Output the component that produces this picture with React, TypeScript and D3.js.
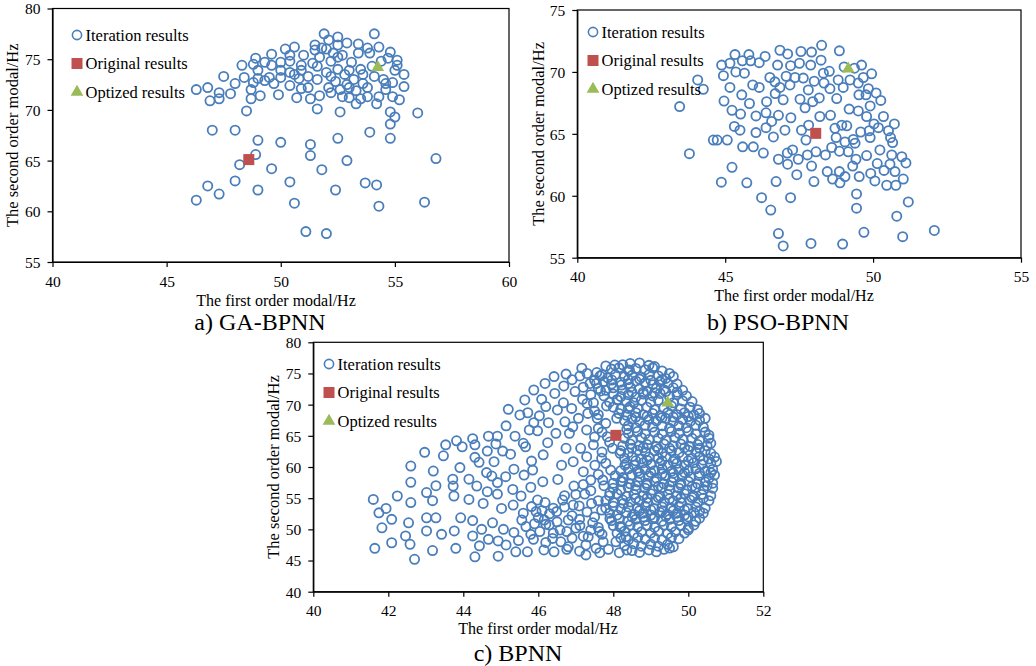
import React, { useRef, useEffect } from "react";
import * as d3 from "d3";

type Pt = [number, number];

// ---- a) GA-BPNN ----
const gaIteration: Pt[] = [
  [46.3, 72.0], [46.8, 72.2], [46.9, 70.9], [47.3, 71.7], [47.3, 71.1], [47.5, 73.3], [47.8, 71.6], [48.0, 72.6],
  [48.3, 74.4], [48.4, 73.2], [48.5, 69.9], [48.7, 72.0], [48.7, 71.1], [48.8, 72.7], [48.8, 74.5], [48.9, 75.1],
  [49.1, 71.4], [49.0, 73.9], [49.0, 73.1], [49.3, 74.7], [49.5, 73.2], [49.6, 75.5], [49.6, 74.4], [49.7, 72.6],
  [49.9, 71.5], [50.0, 74.7], [50.0, 73.9], [50.0, 73.2], [50.2, 76.0], [50.4, 75.4], [50.4, 74.8], [50.4, 73.7],
  [50.4, 72.4], [50.6, 76.2], [50.7, 71.2], [50.8, 73.1], [50.9, 72.1], [50.9, 74.4], [50.9, 73.9], [51.0, 75.4],
  [51.2, 73.3], [51.2, 72.2], [51.3, 71.1], [51.5, 76.4], [51.5, 75.9], [51.6, 74.3], [51.6, 73.0], [51.6, 70.1],
  [51.7, 71.4], [51.7, 75.2], [51.8, 76.1], [51.9, 77.5], [52.1, 76.9], [52.0, 76.0], [52.0, 73.7], [52.1, 72.2],
  [52.2, 74.8], [52.2, 73.3], [52.4, 72.8], [52.5, 77.2], [52.5, 76.4], [52.5, 75.2], [52.5, 74.0], [52.6, 69.8],
  [52.6, 72.0], [52.7, 71.3], [52.7, 75.4], [52.9, 72.5], [52.9, 76.6], [53.0, 73.9], [53.0, 71.2], [53.0, 72.2],
  [53.2, 73.0], [53.3, 70.6], [53.3, 71.9], [53.4, 75.6], [53.4, 76.5], [53.5, 74.0], [53.5, 71.1], [53.6, 73.5],
  [53.8, 72.2], [53.8, 76.1], [53.8, 71.3], [53.9, 75.6], [53.9, 67.8], [54.1, 73.3], [54.1, 77.5], [54.2, 70.6],
  [54.3, 71.3], [54.3, 76.2], [54.4, 74.8], [54.5, 73.0], [54.6, 72.6], [54.6, 72.0], [54.7, 75.1], [54.8, 69.8],
  [54.8, 68.6], [54.8, 67.2], [54.8, 75.7], [54.9, 72.7], [54.9, 71.3], [55.0, 73.9], [55.0, 69.3], [55.1, 74.9],
  [55.1, 74.4], [55.2, 71.0], [55.4, 73.5], [55.4, 72.3], [56.0, 69.7], [52.3, 75.6], [51.4, 74.6], [53.1, 74.7],
  [52.8, 73.5], [50.6, 73.5], [49.3, 72.9], [52.2, 71.7], [53.6, 72.6], [54.0, 74.3],
  [47.0, 68.0], [48.0, 68.0], [49.0, 67.0], [50.0, 66.8], [51.3, 66.6], [48.9, 65.6], [51.3, 65.5], [52.5, 67.2],
  [48.2, 64.6], [49.6, 64.2], [52.9, 65.0], [51.8, 64.1], [46.8, 62.5], [48.0, 63.0], [50.4, 62.9], [53.7, 62.8],
  [54.2, 62.6], [46.3, 61.1], [47.3, 61.7], [49.0, 62.1], [52.4, 62.1], [50.6, 60.8], [54.3, 60.5], [56.3, 60.9],
  [56.8, 65.2], [51.1, 58.0], [52.0, 57.8],
];
const gaOriginal: Pt = [48.6, 65.1];
const gaOptimized: Pt = [54.25, 74.2];
const gaXTicks = [40, 45, 50, 55, 60];
const gaYTicks = [55, 60, 65, 70, 75, 80];

// ---- b) PSO-BPNN ----
const psoIteration: Pt[] = [
  [43.46, 67.2], [43.79, 63.4], [44.07, 69.35], [44.26, 68.6], [44.6, 64.5], [44.73, 64.5], [44.87, 61.1], [44.88, 70.55],
  [44.94, 69.7], [44.96, 67.65], [45.07, 64.5], [45.16, 68.75], [45.16, 70.7], [45.23, 66.9], [45.23, 62.3], [45.31, 65.6],
  [45.33, 71.4], [45.36, 70.0], [45.5, 65.3], [45.52, 66.6], [45.58, 70.9], [45.59, 63.95], [45.65, 69.9], [45.56, 68.15],
  [45.8, 71.4], [45.82, 67.45], [45.73, 61.05], [45.86, 70.9], [45.93, 68.95], [45.95, 63.95], [46.04, 65.1], [46.04, 66.45],
  [46.15, 70.75], [46.15, 68.75], [46.23, 59.85], [46.29, 63.45], [46.35, 71.25], [46.4, 67.6], [46.38, 66.7], [46.38, 65.5],
  [46.51, 69.55], [46.54, 58.85], [46.63, 64.75], [46.57, 66.0], [46.68, 69.2], [46.69, 68.25], [46.72, 61.15], [46.77, 70.55],
  [46.8, 62.95], [46.8, 66.5], [46.8, 56.95], [46.85, 68.75], [46.85, 71.75], [46.96, 55.95], [46.96, 67.75], [47.02, 65.3],
  [47.06, 69.65], [47.1, 63.45], [47.11, 71.45], [47.11, 62.55], [47.19, 68.95], [47.21, 70.5], [47.21, 59.85], [47.22, 66.3],
  [47.28, 63.7], [47.36, 69.55], [47.42, 61.7], [47.47, 62.95], [47.51, 70.7], [47.53, 67.8], [47.56, 71.65], [47.58, 65.3],
  [47.64, 69.5], [47.7, 67.1], [47.73, 64.5], [47.78, 63.3], [47.81, 68.55], [47.82, 65.7], [47.89, 70.55], [47.9, 56.15],
  [47.92, 62.4], [47.92, 71.6], [47.96, 67.6], [48.0, 61.15], [48.01, 69.25], [48.07, 63.55], [48.18, 67.9], [48.2, 66.4],
  [48.26, 72.15], [48.24, 70.95], [48.32, 69.9], [48.34, 69.1], [48.39, 63.3], [48.45, 61.95], [48.52, 70.05], [48.54, 68.65],
  [48.56, 66.5], [48.6, 63.9], [48.63, 61.35], [48.71, 65.45], [48.75, 64.7], [48.77, 67.85], [48.82, 69.35], [48.86, 61.95],
  [48.86, 63.6], [48.86, 71.7], [48.88, 61.05], [48.94, 65.7], [48.97, 56.1], [48.99, 68.75], [49.02, 70.4], [49.05, 61.55],
  [49.05, 64.35], [49.11, 65.65], [49.16, 63.55], [49.19, 67.0], [49.22, 69.35], [49.31, 62.4], [49.33, 64.55], [49.37, 70.3],
  [49.39, 64.25], [49.42, 62.95], [49.44, 60.15], [49.44, 59.0], [49.5, 66.85], [49.5, 69.1], [49.52, 68.15], [49.53, 61.55],
  [49.58, 65.15], [49.61, 70.55], [49.67, 69.55], [49.69, 57.05], [49.76, 68.15], [49.78, 63.25], [49.78, 66.4], [49.84, 68.65],
  [49.87, 65.25], [49.9, 64.7], [49.9, 67.25], [49.92, 61.8], [49.95, 69.85], [50.03, 65.8], [50.06, 61.2], [50.1, 68.3],
  [50.14, 62.6], [50.18, 65.5], [50.23, 63.7], [50.26, 67.7], [50.35, 66.4], [50.37, 62.05], [50.46, 60.85], [50.52, 65.25],
  [50.57, 62.55], [50.59, 64.7], [50.63, 63.3], [50.66, 64.3], [50.72, 65.8], [50.74, 61.95], [50.77, 60.85], [50.8, 58.35],
  [50.97, 63.15], [51.0, 56.7], [51.02, 61.35], [51.11, 62.65], [51.19, 59.5], [52.07, 57.2],
];
const psoOriginal: Pt = [48.06, 65.04];
const psoOptimized: Pt = [49.16, 70.25];
const psoXTicks = [40, 45, 50, 55];
const psoYTicks = [55, 60, 65, 70, 75];

// ---- c) BPNN ----
const bpIteration: Pt[] = [
  // sparse left part
  [41.6, 54.8], [41.64, 46.95], [41.75, 52.65], [41.83, 50.25], [41.94, 53.35], [42.09, 47.85], [42.09, 51.6], [42.24, 55.35],
  [42.46, 48.95], [42.54, 51.05], [42.58, 47.6], [42.6, 57.55], [42.6, 54.3], [42.6, 60.15], [42.7, 45.2], [42.97, 62.35],
  [43.02, 55.9], [43.02, 51.85], [43.02, 49.75], [43.18, 54.6], [43.18, 46.6], [43.2, 59.35], [43.27, 51.85], [43.27, 57.0],
  [43.42, 49.2], [43.47, 61.8], [43.53, 63.55], [43.72, 58.05], [43.73, 56.95], [43.75, 55.35], [43.76, 49.75], [43.8, 46.95],
  [43.82, 64.2], [43.91, 59.9], [43.93, 51.85], [43.97, 63.25], [44.15, 58.05], [44.15, 54.8], [44.25, 64.55], [44.25, 51.4],
  [44.25, 48.95], [44.31, 45.6], [44.31, 61.55], [44.31, 63.55], [44.36, 56.95], [44.42, 60.75], [44.43, 47.35], [44.49, 50.0],
  [44.53, 54.15], [44.62, 59.1], [44.64, 56.05], [44.67, 64.95], [44.64, 62.55], [44.67, 48.4], [44.76, 58.55], [44.78, 51.05],
  [44.82, 60.85], [44.87, 63.7], [44.91, 64.95], [44.91, 57.5], [44.91, 55.65], [44.93, 48.15], [44.93, 45.7], [45.02, 53.35],
  [45.05, 62.55], [45.07, 50.0], [45.13, 58.45], [45.14, 47.5], [45.14, 66.6], [45.2, 69.25], [45.26, 62.05], [45.32, 56.4],
  [45.33, 53.9], [45.35, 59.65], [45.35, 49.5], [45.38, 64.95], [45.4, 46.4], [45.47, 48.2], [45.51, 68.35], [45.54, 55.35],
  [45.56, 51.5], [45.6, 63.8], [45.62, 58.7], [45.64, 70.75], [45.66, 63.25], [45.67, 50.45], [45.71, 46.4], [45.72, 68.7],
  [45.76, 65.95], [45.8, 56.75], [45.82, 60.95], [45.82, 53.65], [45.85, 59.5], [45.87, 48.4], [45.88, 72.35], [45.88, 67.1],
  [45.94, 52.85], [45.98, 65.8], [45.98, 54.7], [46.03, 68.2], [46.04, 49.65], [46.09, 70.85], [46.12, 57.65], [46.13, 61.95],
  [46.15, 46.7], [46.16, 51.5], [46.18, 54.3], [46.18, 73.4], [46.2, 69.7], [46.25, 63.9], [46.27, 67.1], [46.29, 50.7],
  [46.38, 48.55], [46.42, 46.4], [46.42, 74.5], [46.44, 71.8], [46.47, 65.4], [46.49, 52.85], [46.51, 69.15], [46.52, 58.0],
  [46.58, 49.9], [46.62, 60.3], [46.65, 54.7], [46.67, 70.3], [46.68, 73.0], [46.71, 67.25], [46.74, 74.9], [46.74, 63.0],
  [46.76, 46.8], [46.76, 49.65], [46.8, 51.5], [46.83, 65.4], [46.89, 69.4], [46.92, 66.45], [46.93, 60.85], [46.93, 53.9],
  [46.95, 56.95], [46.98, 72.1], [47.07, 67.8], [47.09, 53.75], [47.11, 74.6], [47.11, 50.6], [47.13, 63.0], [47.16, 75.85],
  [47.18, 70.85], [47.2, 59.25], [47.24, 55.65], [47.27, 47.5], [47.27, 45.9], [47.29, 65.95], [47.29, 61.65], [47.32, 68.6],
  [47.33, 48.8], [47.38, 73.4], [47.4, 57.9], [47.42, 54.15], [47.45, 51.05], [47.47, 70.3], [47.47, 63.55], [47.51, 60.3],
  [47.54, 46.95], [47.56, 75.15], [47.57, 67.8], [47.6, 66.2], [47.63, 49.65], [47.64, 46.25], [47.66, 72.2], [47.69, 61.4],
  [47.69, 53.1], [47.72, 57.9], [47.73, 48.0], [47.8, 76.2], [47.82, 69.8], [47.84, 64.85], [47.87, 46.8], [47.91, 55.9],
  [47.91, 51.75], [47.93, 59.5], [47.96, 73.95], [47.98, 63.0], [48.04, 76.35], [48.07, 48.0], [48.09, 67.8], [48.11, 70.75],
  [48.16, 46.25], [48.18, 62.2], [48.18, 50.45], [48.22, 73.15], [48.25, 57.65], [48.27, 54.15], [48.31, 60.3], [48.34, 48.8],
  [48.36, 66.05], [48.36, 46.7], [48.4, 69.4], [48.43, 75.55],
  [46.3, 52.5], [46.5, 51.2], [46.7, 53.6], [46.9, 52.2], [47.1, 51.6], [47.3, 52.8], [47.5, 52.0], [47.6, 50.3],
  [47.7, 49.2], [47.4, 49.9], [47.2, 48.9], [46.9, 48.6], [46.6, 48.0], [46.4, 49.4], [46.2, 50.8], [46.0, 51.9],
  [45.9, 50.9], [47.0, 50.2], [47.6, 54.6], [47.4, 56.2], [47.75, 57.0], [47.6, 58.8], [47.8, 60.6], [47.7, 62.4],
  [47.9, 64.0], [47.5, 64.8], [47.4, 71.6], [47.2, 72.8], [46.9, 74.0], [47.7, 74.8], [47.5, 69.0], [47.8, 67.0],
  [47.3, 75.0], [47.5, 73.9], [47.3, 70.2], [47.6, 68.4], [47.7, 65.6], [47.2, 57.2], [47.0, 55.6], [46.7, 55.4],
  [46.4, 53.4], [46.1, 53.0], [46.2, 47.9], [46.8, 47.2], [47.1, 46.5], [45.8, 49.2], [45.6, 52.6],
  // dense right part
  [48.25, 76.4], [48.45, 76.6], [48.7, 76.7], [48.95, 76.3], [49.1, 76.1],
  [47.95, 75.7], [48.15, 75.9], [48.4, 75.5], [48.6, 75.8], [48.85, 75.6], [49.05, 75.9], [49.3, 75.4], [49.5, 75.0],
  [47.65, 74.6], [47.85, 74.3], [48.05, 74.8], [48.3, 74.5], [48.5, 74.7], [48.75, 74.4], [48.95, 74.8], [49.2, 74.6], [49.4, 74.2], [49.6, 74.5],
  [47.55, 73.4], [47.75, 73.7], [47.95, 73.3], [48.2, 73.6], [48.4, 73.4], [48.6, 73.8], [48.85, 73.5], [49.05, 73.2], [49.25, 73.7], [49.45, 73.4], [49.7, 73.3],
  [47.6, 72.6], [47.8, 72.3], [48.0, 72.7], [48.25, 72.4], [48.45, 72.8], [48.7, 72.5], [48.9, 72.2], [49.15, 72.6], [49.35, 72.4], [49.6, 72.7], [49.85, 72.3],
  [47.75, 71.4], [48.0, 71.7], [48.2, 71.3], [48.4, 71.6], [48.6, 71.2], [48.8, 71.7], [49.05, 71.4], [49.25, 71.8], [49.5, 71.3], [49.7, 71.6], [49.95, 71.4],
  [47.9, 70.4], [48.1, 70.8], [48.35, 70.5], [48.55, 70.3], [48.75, 70.7], [49.0, 70.4], [49.2, 70.7], [49.6, 70.3], [49.85, 70.6], [50.1, 70.5],
  [48.0, 69.6], [48.2, 69.3], [48.45, 69.7], [48.65, 69.4], [48.9, 69.6], [49.1, 69.2], [49.35, 69.5], [49.55, 69.8], [49.8, 69.3], [50.05, 69.6], [50.25, 69.2],
  [48.15, 68.6], [48.35, 68.3], [48.6, 68.7], [48.8, 68.4], [49.05, 68.6], [49.25, 68.2], [49.45, 68.7], [49.7, 68.4], [49.9, 68.7], [50.15, 68.3], [50.3, 68.6],
  [48.3, 67.4], [48.5, 67.7], [48.7, 67.3], [48.95, 67.6], [49.15, 67.4], [49.4, 67.8], [49.6, 67.3], [49.85, 67.6], [50.05, 67.3], [50.3, 67.5], [50.45, 67.8],
  [48.4, 66.6], [48.6, 66.3], [48.85, 66.7], [49.05, 66.4], [49.3, 66.6], [49.5, 66.2], [49.75, 66.6], [49.95, 66.3], [50.2, 66.7], [50.4, 66.4],
  [48.4, 65.4], [48.65, 65.7], [48.85, 65.3], [49.1, 65.6], [49.3, 65.3], [49.55, 65.7], [49.75, 65.4], [50.0, 65.7], [50.2, 65.3], [50.45, 65.6], [50.55, 65.1],
  [48.3, 64.6], [48.5, 64.3], [48.75, 64.7], [48.95, 64.4], [49.2, 64.6], [49.4, 64.3], [49.65, 64.7], [49.85, 64.4], [50.1, 64.6], [50.3, 64.2], [50.55, 64.6],
  [48.25, 63.4], [48.45, 63.7], [48.7, 63.4], [48.9, 63.6], [49.15, 63.3], [49.35, 63.7], [49.6, 63.4], [49.8, 63.7], [50.05, 63.3], [50.25, 63.6], [50.5, 63.4], [50.6, 63.8],
  [48.2, 62.6], [48.4, 62.3], [48.65, 62.7], [48.85, 62.4], [49.1, 62.6], [49.3, 62.2], [49.55, 62.6], [49.75, 62.3], [50.0, 62.7], [50.2, 62.4], [50.45, 62.6], [50.6, 62.2],
  [48.3, 61.4], [48.5, 61.7], [48.75, 61.3], [48.95, 61.6], [49.2, 61.4], [49.4, 61.7], [49.65, 61.3], [49.85, 61.6], [50.1, 61.4], [50.3, 61.7], [50.55, 61.3], [50.7, 61.6],
  [48.35, 60.6], [48.55, 60.3], [48.8, 60.7], [49.0, 60.4], [49.25, 60.6], [49.45, 60.2], [49.7, 60.6], [49.9, 60.3], [50.15, 60.7], [50.35, 60.4], [50.6, 60.6], [50.75, 60.9],
  [48.2, 59.4], [48.4, 59.7], [48.65, 59.3], [48.85, 59.6], [49.1, 59.4], [49.3, 59.7], [49.55, 59.3], [49.75, 59.6], [50.0, 59.4], [50.2, 59.7], [50.45, 59.3], [50.65, 59.6],
  [48.05, 58.6], [48.25, 58.3], [48.5, 58.7], [48.7, 58.4], [48.95, 58.6], [49.15, 58.2], [49.4, 58.6], [49.6, 58.3], [49.85, 58.7], [50.05, 58.4], [50.3, 58.6], [50.55, 58.2], [50.7, 58.7],
  [48.0, 57.4], [48.2, 57.7], [48.45, 57.3], [48.65, 57.6], [48.9, 57.4], [49.1, 57.7], [49.35, 57.3], [49.55, 57.6], [49.8, 57.4], [50.0, 57.7], [50.25, 57.3], [50.45, 57.6], [50.65, 57.4],
  [48.0, 56.6], [48.2, 56.3], [48.4, 56.7], [48.6, 56.4], [48.85, 56.6], [49.05, 56.3], [49.3, 56.7], [49.5, 56.4], [49.75, 56.6], [49.95, 56.3], [50.2, 56.7], [50.4, 56.4], [50.65, 56.6],
  [47.9, 55.4], [48.1, 55.7], [48.35, 55.3], [48.55, 55.6], [48.8, 55.4], [49.0, 55.7], [49.25, 55.3], [49.45, 55.6], [49.7, 55.4], [49.9, 55.7], [50.15, 55.3], [50.35, 55.6], [50.6, 55.4],
  [47.8, 54.6], [48.0, 54.3], [48.25, 54.7], [48.45, 54.4], [48.7, 54.6], [48.9, 54.3], [49.15, 54.7], [49.35, 54.4], [49.6, 54.6], [49.8, 54.3], [50.05, 54.7], [50.25, 54.4], [50.55, 54.6],
  [47.8, 53.4], [48.0, 53.7], [48.2, 53.3], [48.4, 53.6], [48.65, 53.4], [48.85, 53.7], [49.1, 53.3], [49.3, 53.6], [49.55, 53.4], [49.75, 53.7], [50.0, 53.3], [50.2, 53.6], [50.45, 53.4],
  [47.9, 52.6], [48.1, 52.3], [48.35, 52.7], [48.55, 52.4], [48.8, 52.6], [49.0, 52.3], [49.25, 52.7], [49.45, 52.4], [49.7, 52.6], [49.9, 52.3], [50.15, 52.7], [50.4, 52.6],
  [47.95, 51.4], [48.15, 51.7], [48.4, 51.3], [48.6, 51.6], [48.85, 51.4], [49.05, 51.7], [49.3, 51.3], [49.5, 51.6], [49.75, 51.4], [49.95, 51.7], [50.2, 51.3], [50.3, 51.8],
  [48.0, 50.6], [48.2, 50.3], [48.45, 50.7], [48.65, 50.4], [48.9, 50.6], [49.1, 50.3], [49.35, 50.7], [49.55, 50.4], [49.8, 50.6], [50.0, 50.2], [50.15, 50.7],
  [48.1, 49.4], [48.3, 49.7], [48.55, 49.3], [48.75, 49.6], [49.0, 49.4], [49.2, 49.7], [49.45, 49.3], [49.65, 49.6], [49.9, 49.4], [50.0, 49.9],
  [48.2, 48.6], [48.4, 48.3], [48.65, 48.7], [48.85, 48.4], [49.1, 48.6], [49.3, 48.3], [49.55, 48.7], [49.75, 48.5],
  [48.3, 47.4], [48.55, 47.7], [48.75, 47.3], [49.0, 47.6], [49.2, 47.3], [49.45, 47.6], [49.6, 47.2],
  [48.5, 46.6], [48.7, 46.3], [48.95, 46.7], [49.15, 46.4], [49.35, 46.8], [49.5, 47.0],
  [48.6, 55.0], [48.9, 55.0], [49.2, 55.1], [49.5, 54.9], [49.8, 55.0], [50.1, 55.1], [50.4, 55.0],
  [48.5, 52.0], [48.8, 52.0], [49.1, 51.9], [49.4, 52.1], [49.7, 52.0], [50.0, 52.0],
  [48.7, 53.0], [49.0, 53.1], [49.3, 52.9], [49.6, 53.0], [49.9, 53.1], [50.3, 52.9],
  [48.6, 57.0], [48.9, 57.1], [49.2, 56.9], [49.5, 57.0], [49.8, 57.1], [50.1, 56.9], [50.5, 57.0],
  [48.7, 59.0], [49.0, 59.1], [49.3, 58.9], [49.6, 59.0], [49.9, 59.1], [50.3, 59.0], [50.6, 59.1],
  [48.6, 61.0], [48.9, 61.1], [49.3, 61.0], [49.6, 60.9], [50.0, 61.0], [50.4, 61.1],
  [48.5, 63.0], [48.8, 63.1], [49.2, 62.9], [49.5, 63.0], [49.9, 63.1], [50.3, 63.0],
  [48.6, 68.0], [48.9, 68.1], [49.3, 67.9], [49.6, 68.0], [50.0, 68.1],
  [48.5, 72.0], [48.8, 72.0], [49.1, 71.9], [49.4, 72.1], [49.7, 72.0],
  [48.4, 74.0], [48.7, 74.1], [49.0, 73.9], [49.3, 74.0],
];
const bpOriginal: Pt = [48.07, 65.08];
const bpOptimized: Pt = [49.45, 70.3];
const bpXTicks = [40, 42, 44, 46, 48, 50, 52];
const bpYTicks = [40, 45, 50, 55, 60, 65, 70, 75, 80];

const legendLabels = ["Iteration results", "Original results", "Optized results"];
const xTitle = "The first order modal/Hz";
const yTitle = "The second order modal/Hz";

const BLUE = "#4a7ebb";
const RED = "#c0504d";
const GREEN = "#9bbb59";
const FONT = "'Liberation Serif', 'Times New Roman', serif";

const panels = [
  {
    points: gaIteration, original: gaOriginal, optimized: gaOptimized, xTicks: gaXTicks, yTicks: gaYTicks,
    caption: "a) GA-BPNN", left: 52.5, right: 509, top: 8.5, bottom: 262,
    xTitleX: 276, xTitleY: 300, yTitleX: 12, captionX: 260, captionY: 322, legendX: 77, legendY: 35,
  },
  {
    points: psoIteration, original: psoOriginal, optimized: psoOptimized, xTicks: psoXTicks, yTicks: psoYTicks,
    caption: "b) PSO-BPNN", left: 577.3, right: 1021, top: 10, bottom: 257.7,
    xTitleX: 794, xTitleY: 295, yTitleX: 538, captionX: 778, captionY: 322, legendX: 593, legendY: 32,
  },
  {
    points: bpIteration, original: bpOriginal, optimized: bpOptimized, xTicks: bpXTicks, yTicks: bpYTicks,
    caption: "c) BPNN", left: 313.3, right: 763.3, top: 342.3, bottom: 591.7,
    xTitleX: 538, xTitleY: 628.5, yTitleX: 273, captionX: 518, captionY: 653, legendX: 329, legendY: 364,
  },
];

const App = () => {
  const svgRef = useRef<SVGSVGElement>(null);

  useEffect(() => {
    const svg = d3.select(svgRef.current);
    svg.selectAll("*").remove();

    panels.forEach(p => {
      const x = d3.scaleLinear().domain([p.xTicks[0], p.xTicks[p.xTicks.length - 1]]).range([p.left, p.right]);
      const y = d3.scaleLinear().domain([p.yTicks[0], p.yTicks[p.yTicks.length - 1]]).range([p.bottom, p.top]);
      const g = svg.append("g");

      // frame
      g.append("rect")
        .attr("x", p.left).attr("y", p.top)
        .attr("width", p.right - p.left).attr("height", p.bottom - p.top)
        .attr("fill", "none").attr("stroke", "#000").attr("stroke-width", 1.2);

      // axes
      const xAxis = g.append("g")
        .attr("transform", `translate(0,${p.bottom})`)
        .call(d3.axisBottom(x).tickValues(p.xTicks).tickSize(5).tickSizeOuter(0).tickFormat(d3.format("d")));
      const yAxis = g.append("g")
        .attr("transform", `translate(${p.left},0)`)
        .call(d3.axisLeft(y).tickValues(p.yTicks).tickSize(5).tickSizeOuter(0).tickFormat(d3.format("d")));
      [xAxis, yAxis].forEach(a => {
        a.select(".domain").attr("stroke", "#000").attr("stroke-width", 1.2);
        a.selectAll(".tick line").attr("stroke", "#000").attr("stroke-width", 1.2);
        a.selectAll(".tick text").attr("font-family", FONT).attr("font-size", 15.5).attr("fill", "#000");
      });
      xAxis.selectAll(".tick text").attr("dy", null).attr("y", 24.5);
      yAxis.selectAll(".tick text").attr("x", -12).attr("dy", "0.35em");

      // points
      g.append("g").selectAll("circle").data(p.points).join("circle")
        .attr("cx", d => x(d[0])).attr("cy", d => y(d[1])).attr("r", 4.6)
        .attr("fill", "none").attr("stroke", BLUE).attr("stroke-width", 1.8);

      g.append("rect")
        .attr("x", x(p.original[0]) - 5.5).attr("y", y(p.original[1]) - 5.5)
        .attr("width", 11).attr("height", 11).attr("fill", RED);

      const tri = d3.symbol().type(d3.symbolTriangle).size(70);
      g.append("path").attr("d", tri())
        .attr("transform", `translate(${x(p.optimized[0])},${y(p.optimized[1])})`)
        .attr("fill", GREEN);

      // legend
      const lg = g.append("g");
      legendLabels.forEach((label, i) => {
        const cy = p.legendY + i * 28.5;
        if (i === 0) {
          lg.append("circle").attr("cx", p.legendX).attr("cy", cy).attr("r", 4.6)
            .attr("fill", "#fff").attr("stroke", BLUE).attr("stroke-width", 1.6);
        } else if (i === 1) {
          lg.append("rect").attr("x", p.legendX - 5.5).attr("y", cy - 5.5).attr("width", 11).attr("height", 11).attr("fill", RED);
        } else {
          lg.append("path").attr("d", tri()).attr("transform", `translate(${p.legendX},${cy})`).attr("fill", GREEN);
        }
        lg.append("text").attr("x", p.legendX + 8.5).attr("y", cy).attr("dy", "0.35em")
          .attr("font-family", FONT).attr("font-size", 16.5).attr("fill", "#000").text(label);
      });

      // titles
      g.append("text").attr("x", p.xTitleX).attr("y", p.xTitleY).attr("dy", "0.35em")
        .attr("text-anchor", "middle").attr("font-family", FONT).attr("font-size", 16).text(xTitle);
      g.append("text")
        .attr("transform", `translate(${p.yTitleX},${(p.top + p.bottom) / 2}) rotate(-90)`)
        .attr("dy", "0.35em").attr("text-anchor", "middle")
        .attr("font-family", FONT).attr("font-size", 16.5).text(yTitle);
      g.append("text").attr("x", p.captionX).attr("y", p.captionY).attr("dy", "0.35em")
        .attr("text-anchor", "middle").attr("font-family", FONT).attr("font-size", 24).text(p.caption);
    });
  }, []);

  return (
    <svg ref={svgRef} width={1036} height={666}
      style={{ position: "absolute", left: 0, top: 0, background: "#fff" }} />
  );
};

export default App;
